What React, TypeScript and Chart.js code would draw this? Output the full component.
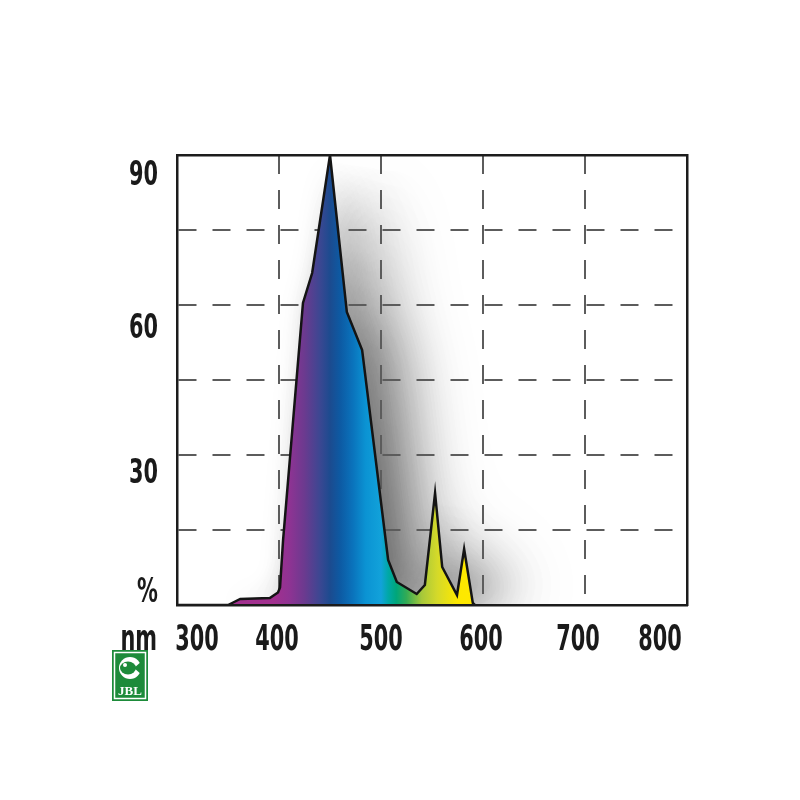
import React, { useEffect, useRef } from 'react';
import { Chart, registerables } from 'chart.js';

Chart.register(...registerables);

// ---- data ----
const wavelengths = [300, 350, 355, 362, 391, 399, 401, 404, 423.5, 432.5, 450, 466.5, 481.5, 507, 515.5, 535, 543, 553, 560, 574.5, 581.5, 590, 592];
const intensity = [0, 0, 0.5, 1.2, 1.4, 2.5, 3.5, 13, 60.4, 66.4, 90, 58.6, 51, 9, 4.6, 2.2, 4, 22.4, 7.6, 2, 11.2, 0.4, 0];

const xTickValues = [300, 400, 500, 600, 700, 800];
const xTickLabels = ['300', '400', '500', '600', '700', '800'];
const yTickValues = [0, 30, 60, 90];
const yTickLabels = ['%', '30', '60', '90'];
const xUnitLabel = 'nm';
const logoText = 'JBL';

// spectrum colour stops (nm -> colour)
const stopNm = [395, 410, 425, 440, 450, 460, 472, 485, 500, 507, 515, 525, 540, 555, 575, 592];
const stopColors = ['#a2308f', '#8f3393', '#6b3a8f', '#3c4792', '#1c4b8f', '#0d5aa3', '#0a72bb', '#0b93d3', '#12a2da', '#00a8a8', '#00a67a', '#33ab55', '#a7c83a', '#d4d92a', '#fde800', '#ffe800'];

// ---- styling constants ----
const X_LABEL_SHIFT = [20, -2, 0, -2, -7, -27];
const Y_LABEL_BASELINE = [-3, 28, 33, 30];
const LABEL_FONT = '"Liberation Sans Narrow", "DejaVu Sans Condensed", "Liberation Sans", sans-serif';
const GRID_COLOR = '#5c5c5c';
const FRAME_COLOR = '#1c1c1c';

function drawText(ctx: CanvasRenderingContext2D, text: string, x: number, y: number, align: CanvasTextAlign, size: number, digitWidth: number) {
  ctx.save();
  ctx.font = `bold ${size}px ${LABEL_FONT}`;
  const w = ctx.measureText('000').width || 1;
  const sx = (digitWidth * 3) / w;
  ctx.textBaseline = 'alphabetic';
  ctx.textAlign = align;
  ctx.fillStyle = '#1a1a1a';
  ctx.translate(x, y);
  ctx.scale(sx, 1);
  ctx.fillText(text, 0, 0);
  ctx.restore();
}

const shadowPlugin = {
  id: 'spectrumShadow',
  beforeDraw(chart: any) {
    const { ctx, chartArea: a } = chart;
    const pts = chart.getDatasetMeta(0).data;
    if (!pts || !pts.length) return;
    const base = chart.scales.y.getPixelForValue(0);
    const off = 3000;
    ctx.save();
    ctx.beginPath();
    ctx.rect(a.left, a.top, a.right - a.left, a.bottom - a.top);
    ctx.clip();
    // smeared shadow cast to the right
    for (let k = 0; k < 8; k++) {
      ctx.shadowColor = 'rgba(0,0,0,0.11)';
      ctx.shadowBlur = 30 + k * 5;
      ctx.shadowOffsetX = off + 4 + k * 8;
      ctx.shadowOffsetY = 0;
      ctx.beginPath();
      ctx.moveTo(pts[0].x - off, base);
      pts.forEach((p: any) => ctx.lineTo(p.x - off, p.y));
      ctx.lineTo(pts[pts.length - 1].x - off, base);
      ctx.closePath();
      ctx.fillStyle = '#000';
      ctx.fill();
    }
    ctx.restore();
  },
};

const labelPlugin = {
  id: 'tickTexts',
  afterDraw(chart: any) {
    const { ctx, chartArea: a, scales } = chart;
    xTickValues.forEach((v, i) => {
      const px = scales.x.getPixelForValue(v) + X_LABEL_SHIFT[i];
      drawText(ctx, xTickLabels[i], px, a.bottom + 45, 'center', 36, 14.5);
    });
    drawText(ctx, xUnitLabel, a.left - 20, a.bottom + 45, 'right', 36, 14.5);
    yTickValues.forEach((v, i) => {
      const py = scales.y.getPixelForValue(v) + Y_LABEL_BASELINE[i];
      drawText(ctx, yTickLabels[i], a.left - 19, py, 'right', 34, 14.5);
    });
    // logo
    const x = 112, y = 650, w = 36, h = 51;
    ctx.save();
    ctx.fillStyle = '#1d8b3a';
    ctx.fillRect(x, y, w, h);
    ctx.strokeStyle = '#ffffff';
    ctx.lineWidth = 1.5;
    ctx.strokeRect(x + 2.5, y + 2.5, w - 5, h - 5);
    ctx.fillStyle = '#ffffff';
    ctx.beginPath();
    ctx.arc(x + 18, y + 18, 11, 0, Math.PI * 2);
    ctx.fill();
    ctx.fillStyle = '#1d8b3a';
    ctx.beginPath();
    ctx.ellipse(x + 16, y + 18, 8, 6.5, 0, 0, Math.PI * 2);
    ctx.fill();
    ctx.beginPath();
    ctx.moveTo(x + 22, y + 18);
    ctx.lineTo(x + 30, y + 11);
    ctx.lineTo(x + 30, y + 25);
    ctx.closePath();
    ctx.fill();
    ctx.fillStyle = '#ffffff';
    ctx.beginPath();
    ctx.arc(x + 13, y + 15, 2, 0, Math.PI * 2);
    ctx.fill();
    ctx.font = 'bold 13px "Liberation Serif", serif';
    ctx.textAlign = 'center';
    ctx.textBaseline = 'alphabetic';
    ctx.fillText(logoText, x + 18, y + 45);
    ctx.restore();
  },
};

function gridColor(edgeMin: number, edgeMax: number) {
  return (c: any) => {
    const v = c.tick ? c.tick.value : null;
    return v === edgeMin || v === edgeMax ? 'rgba(0,0,0,0)' : GRID_COLOR;
  };
}

export default function App() {
  const ref = useRef<HTMLCanvasElement | null>(null);

  useEffect(() => {
    if (!ref.current) return;
    const chart = new Chart(ref.current, {
      type: 'line',
      data: {
        datasets: [
          {
            data: wavelengths.map((w, i) => ({ x: w, y: intensity[i] })),
            borderColor: '#141414',
            borderWidth: 2.5,
            borderJoinStyle: 'miter',
            pointRadius: 0,
            tension: 0,
            fill: 'origin',
            backgroundColor: (c: any) => {
              const ch = c.chart;
              if (!ch.chartArea) return '#1c4b8f';
              const xs = ch.scales.x;
              const x0 = xs.getPixelForValue(300);
              const x1 = xs.getPixelForValue(800);
              const g = ch.ctx.createLinearGradient(x0, 0, x1, 0);
              stopNm.forEach((n, i) => g.addColorStop((n - 300) / 500, stopColors[i]));
              return g;
            },
          } as any,
        ],
      },
      options: {
        responsive: false,
        animation: false,
        layout: { padding: { left: 177, top: 155, right: 113, bottom: 195 } },
        plugins: { legend: { display: false }, tooltip: { enabled: false } },
        scales: {
          x: {
            type: 'linear',
            min: 300,
            max: 800,
            ticks: { display: false, stepSize: 100 },
            grid: { color: gridColor(300, 800), lineWidth: 2, drawTicks: false },
            border: { display: true, color: FRAME_COLOR, width: 2.5, dash: [19, 16], z: 1 },
            afterFit: (s: any) => { s.height = 0; },
          },
          y: {
            type: 'linear',
            min: 0,
            max: 90,
            ticks: { display: false, stepSize: 15 },
            grid: { color: gridColor(0, 90), lineWidth: 2, drawTicks: false },
            border: { display: true, color: FRAME_COLOR, width: 2.5, dash: [18, 16], z: 1 },
            afterFit: (s: any) => { s.width = 0; },
          },
          x2: {
            type: 'linear',
            position: 'top',
            min: 300,
            max: 800,
            ticks: { display: false },
            grid: { display: false, drawTicks: false },
            border: { display: true, color: FRAME_COLOR, width: 2.5, z: 1 },
            afterFit: (s: any) => { s.height = 0; },
          },
          y2: {
            type: 'linear',
            position: 'right',
            min: 0,
            max: 90,
            ticks: { display: false },
            grid: { display: false, drawTicks: false },
            border: { display: true, color: FRAME_COLOR, width: 2.5, z: 1 },
            afterFit: (s: any) => { s.width = 0; },
          },
        },
      } as any,
      plugins: [shadowPlugin, labelPlugin],
    });
    return () => chart.destroy();
  }, []);

  return (
    <div style={{ position: 'absolute', left: 0, top: 0, width: 800, height: 800, background: '#ffffff' }}>
      <canvas ref={ref} width={800} height={800} style={{ width: 800, height: 800, display: 'block' }} />
    </div>
  );
}
